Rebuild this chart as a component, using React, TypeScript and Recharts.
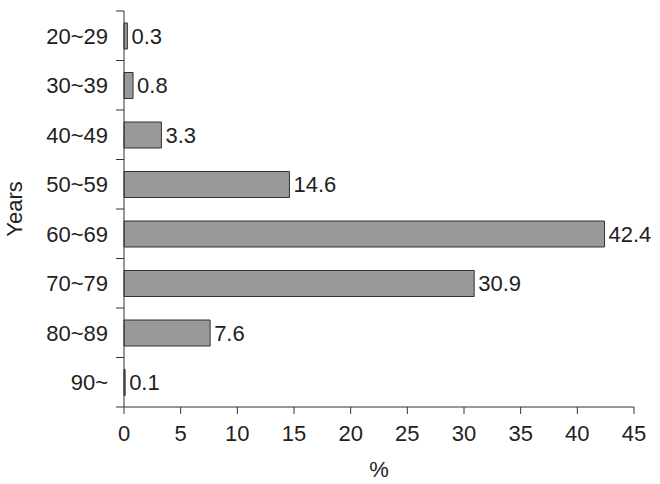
import React from 'react';
import { BarChart, Bar, XAxis, YAxis, LabelList } from 'recharts';

const ageGroups = ['20~29', '30~39', '40~49', '50~59', '60~69', '70~79', '80~89', '90~'];
const percents = [0.3, 0.8, 3.3, 14.6, 42.4, 30.9, 7.6, 0.1];
const xTicks = [0, 5, 10, 15, 20, 25, 30, 35, 40, 45];

const data = ageGroups.map((age, i) => ({ age, pct: percents[i] }));

const W = 660;
const H = 484;
const TOP = 11;
const BOTTOM = 77;
const band = (H - TOP - BOTTOM) / ageGroups.length;
const font = '"Liberation Sans", Arial, sans-serif';
const ink = '#222';
const FS = 22;

const AgeTick = (props: any) => {
  const { x, y, payload, index } = props;
  const last = index === ageGroups.length - 1;
  return (
    <g>
      <line x1={x - 8} x2={x} y1={y - band / 2} y2={y - band / 2} stroke="#333" />
      {last && <line x1={x - 8} x2={x} y1={y + band / 2} y2={y + band / 2} stroke="#333" />}
      <text x={x - 16} y={y} dy={8} textAnchor="end" fontSize={FS} fill={ink} fontFamily={font}>
        {payload.value}
      </text>
    </g>
  );
};

export default function App() {
  return (
    <div style={{ position: 'absolute', left: 0, top: 0, width: W, height: H, background: '#fff' }}>
      <BarChart
        width={W}
        height={H}
        data={data}
        layout="vertical"
        margin={{ top: TOP, right: 26, left: 0, bottom: 0 }}
        barSize={26}
      >
        <XAxis
          type="number"
          domain={[0, 45]}
          ticks={xTicks}
          height={BOTTOM}
          stroke="#333"
          tickSize={7}
          tickMargin={11}
          tick={{ fontSize: FS, fill: ink, fontFamily: font }}
          label={{ value: '%', position: 'insideBottom', offset: 7, fontSize: FS, fill: ink, fontFamily: font }}
        />
        <YAxis
          type="category"
          dataKey="age"
          width={124}
          stroke="#333"
          tickLine={false}
          tickSize={0}
          tickMargin={0}
          tick={<AgeTick />}
          interval={0}
          label={{
            content: ({ viewBox }: any) => {
              const cx = viewBox.x + 14;
              const cy = viewBox.y + viewBox.height / 2;
              return (
                <text x={cx} y={cy} dy={8} transform={`rotate(-90 ${cx} ${cy})`} textAnchor="middle" fontSize={FS} fill={ink} fontFamily={font}>
                  Years
                </text>
              );
            },
          }}
        />
        <Bar dataKey="pct" fill="#999" stroke="#333" strokeWidth={1} isAnimationActive={false}>
          <LabelList dataKey="pct" position="right" offset={4} fontSize={FS} fill={ink} fontFamily={font} />
        </Bar>
      </BarChart>
    </div>
  );
}
